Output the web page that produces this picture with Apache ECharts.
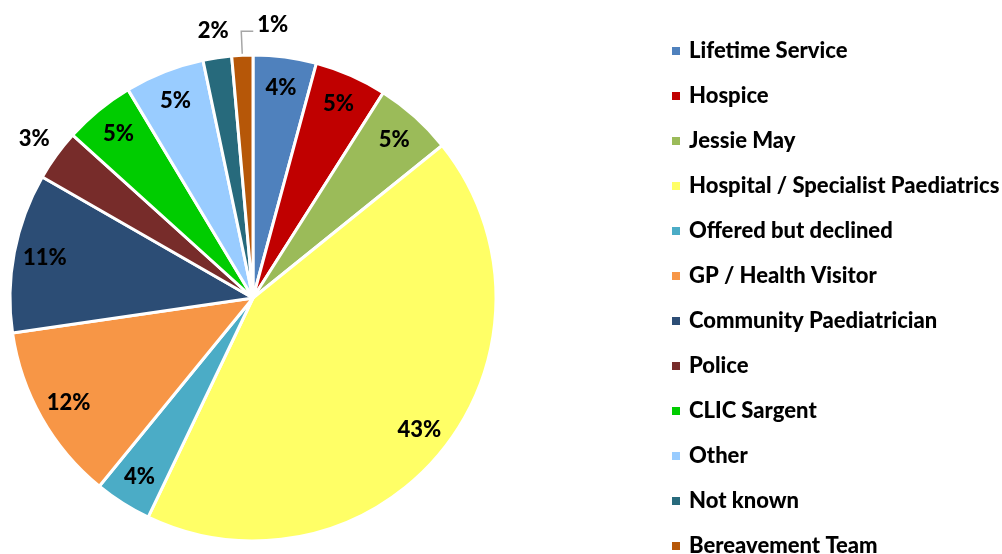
<!DOCTYPE html>
<html lang="en">
<head>
    <meta charset="UTF-8">
    <title>pie</title>
    <script src="https://cdn.jsdelivr.net/npm/echarts@6/dist/echarts.min.js"></script>
    <style>
        body{ margin:0; background:#fff; }
        .box{ width:1002px; height:554px; }
    </style>
</head>
<body>
    <div class="box"></div>
    <script>
        // slice shares in % (labels show the rounded value)
        var categories = ['Lifetime Service', 'Hospice', 'Jessie May', 'Hospital / Specialist Paediatrics',
            'Offered but declined', 'GP / Health Visitor', 'Community Paediatrician', 'Police',
            'CLIC Sargent', 'Other', 'Not known', 'Bereavement Team']
        var shares = [4.2, 4.8, 5.2, 42.9, 3.8, 11.8, 10.6, 3.4, 4.7, 5.3, 1.9, 1.4]
        var colors = ['#4F81BD', '#C00000', '#9BBB59', '#FFFF66', '#4BACC6', '#F79646',
            '#2C4D75', '#772C2A', '#00CC00', '#99CCFF', '#276A7C', '#B65708']
        // which slices get their label outside the pie
        var outsideLabels = ['Police', 'Not known']
        var leaderLabel = 'Bereavement Team'

        var font = 'Lato'
        var center = [253, 298]
        var R = 243

        function pct(p){ return Math.round(p.value) + '%' }

        var mainData = categories.map(function(name, i){
            return {
                name: name, value: shares[i],
                itemStyle: { color: colors[i] },
                label: { show: name === leaderLabel },
                labelLine: { show: name === leaderLabel }
            }
        })
        var innerData = categories.map(function(name, i){
            var inside = outsideLabels.indexOf(name) < 0 && name !== leaderLabel
            return { name: name, value: shares[i], label: { show: inside } }
        })
        var outerData = categories.map(function(name, i){
            return { name: name, value: shares[i], label: { show: outsideLabels.indexOf(name) >= 0 } }
        })

        var labelFont = { fontFamily: font, fontWeight: 900, fontSize: 22, color: '#000', formatter: pct }

        let chart = echarts.init(document.querySelector('.box'), null, { renderer: 'canvas' })
        let option = {
            animation: false,
            legend: {
                orient: 'vertical',
                left: 670,
                top: 40,
                height: 700,
                padding: 0,
                data: categories,
                icon: 'rect',
                itemWidth: 10,
                itemHeight: 10,
                itemGap: 23,
                selectedMode: false,
                textStyle: { fontFamily: font, fontWeight: 900, fontSize: 22, color: '#000', padding: [0, 0, 0, 3] }
            },
            series: [
                {
                    type: 'pie',
                    center: center,
                    radius: [0, R],
                    startAngle: 90,
                    clockwise: true,
                    data: mainData,
                    itemStyle: { borderColor: '#fff', borderWidth: 3 },
                    emphasis: { disabled: true },
                    label: Object.assign({ position: 'outside' }, labelFont),
                    labelLine: { length: 24, length2: 12, smooth: false, lineStyle: { color: '#A6A6A6', width: 1.5 } },
                    labelLayout: function(p){
                        // leader line of the tiny slice turns right, like the original
                        if (!p.labelLinePoints) return {}
                        var p0 = p.labelLinePoints[0], p1 = p.labelLinePoints[1]
                        var p2 = [p1[0] + 12, p1[1]]
                        return { x: p2[0] + 4, y: p2[1] - 6, align: 'left', verticalAlign: 'middle',
                            labelLinePoints: [p0, p1, p2] }
                    }
                },
                {
                    // transparent ring only used to place the labels near the rim
                    type: 'pie',
                    center: center,
                    radius: [R * 0.72, R],
                    startAngle: 90,
                    silent: true,
                    data: innerData,
                    itemStyle: { color: 'transparent', borderWidth: 0 },
                    label: Object.assign({ position: 'inside' }, labelFont),
                    labelLine: { show: false }
                },
                {
                    type: 'pie',
                    center: center,
                    radius: [R, R * 1.2],
                    startAngle: 90,
                    silent: true,
                    data: outerData,
                    itemStyle: { color: 'transparent', borderWidth: 0 },
                    label: Object.assign({ position: 'inside' }, labelFont),
                    labelLine: { show: false }
                }
            ]
        }
        chart.setOption(option)
    </script>
</body>
</html>
